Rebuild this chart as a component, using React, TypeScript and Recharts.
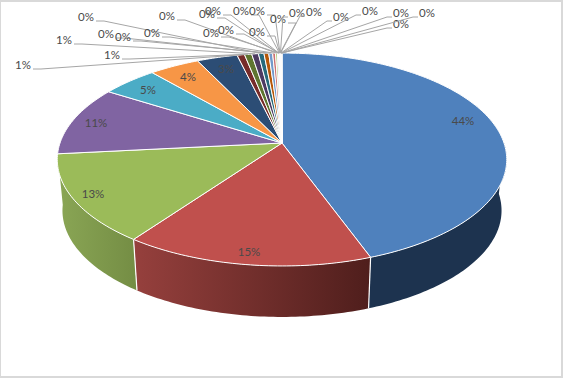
import { PieChart, Pie, Cell } from 'recharts';

const sliceNames = Array.from({ length: 30 }, (_, i) => `Item ${i + 1}`);

const sliceValues = [
  44.48, 15.48, 13.44, 10.6, 4.7, 4.2, 3.4,
  0.62, 0.6, 0.56,
  0.46, 0.4, 0.32, 0.24, 0.16, 0.1,
  0.02, 0.02, 0.02, 0.02, 0.02, 0.02, 0.02,
  0.02, 0.02, 0.02, 0.02, 0.02, 0.02, 0.02,
];

const sliceColors = [
  '#4F81BD', '#C0504D', '#9BBB59', '#8064A2', '#4BACC6', '#F79646', '#2C4D75',
  '#772C2A', '#5F7530', '#4D3B62', '#276A7C', '#B65708', '#729ACA', '#CD7371',
  '#AFC97A', '#9983B5', '#6FBDD1', '#F9AB6B', '#3A679C', '#9F3B38',
  '#7E9D40', '#664F82', '#339198', '#D17B0F', '#8EADD6', '#D89896',
  '#C1D69D', '#AFA0C6', '#93CCDD', '#FAC192',
];

// wall gradient per slice, left to right (only the three front slices show a wall)
const wallColors: Record<number, [string, string]> = {
  0: ['#1D334F', '#1D334F'],
  1: ['#96403D', '#4F1E1C'],
  2: ['#8AA655', '#748D44'],
};

// where each percent label sits in the picture, same order as the slices
const labelSpots: [number, number][] = [
  [463, 120], [249, 251], [93, 193], [96, 122], [148, 89], [188, 76], [226, 68],
  [23, 64], [112, 54], [64, 39], [86, 16], [106, 33], [123, 36], [152, 32],
  [167, 15], [207, 13], [213, 10], [211, 32], [226, 29], [241, 10], [257, 31],
  [257, 10], [278, 18], [297, 12], [314, 11], [341, 16], [370, 10], [401, 23],
  [401, 12], [427, 12],
];

const WIDTH = 563;
const HEIGHT = 378;
const CX = 282;
const CY = 143;
const RADIUS = 222;
const SQUASH = 0.468; // circle to ellipse
const PERSPECTIVE = 0.155; // near edge bigger than far edge
const DEPTH = 51;
const BOTTOM_SHRINK = 0.977;
const RAD = Math.PI / 180;

// recharts angle -> point on the tilted disc
function project(angle: number, cx: number, cy: number, r: number, shrink = 1, drop = 0) {
  const u = Math.cos(angle * RAD);
  const v = -Math.sin(angle * RAD);
  const d = 1 - PERSPECTIVE * v;
  return {
    x: cx + (r * shrink * u) / d,
    y: cy + drop + (r * SQUASH * v) / d,
  };
}

function steps(from: number, to: number) {
  const n = Math.max(1, Math.ceil(Math.abs(to - from)));
  return Array.from({ length: n + 1 }, (_, i) => from + ((to - from) * i) / n);
}

function Slice3D(props: any) {
  const { cx, cy, outerRadius, startAngle, endAngle, fill, index } = props;
  const top = steps(startAngle, endAngle).map((a) => project(a, cx, cy, outerRadius));
  const topPath =
    `M${cx},${cy} ` + top.map((p) => `L${p.x.toFixed(2)},${p.y.toFixed(2)}`).join(' ') + ' Z';

  // wall only on the near half of the rim
  const wallFrom = Math.min(startAngle, 0);
  const wallTo = Math.max(endAngle, -180);
  const hasWall = wallFrom > wallTo && wallColors[index];
  let wall = null;
  if (hasWall) {
    const angles = steps(wallFrom, wallTo);
    const upper = angles.map((a) => project(a, cx, cy, outerRadius));
    const lower = angles
      .slice()
      .reverse()
      .map((a) => project(a, cx, cy, outerRadius, BOTTOM_SHRINK, DEPTH));
    const d =
      [...upper, ...lower]
        .map((p, i) => `${i ? 'L' : 'M'}${p.x.toFixed(2)},${p.y.toFixed(2)}`)
        .join(' ') + ' Z';
    const a = project(wallFrom, cx, cy, outerRadius);
    const b = project(wallFrom, cx, cy, outerRadius, BOTTOM_SHRINK, DEPTH);
    wall = (
      <>
        <defs>
          <linearGradient id={`wall-${index}`} x1="0" y1="0" x2="1" y2="0">
            <stop offset="0" stopColor={wallColors[index][0]} />
            <stop offset="1" stopColor={wallColors[index][1]} />
          </linearGradient>
        </defs>
        <path d={d} fill={`url(#wall-${index})`} stroke="none" />
        {index > 0 && <line x1={a.x} y1={a.y} x2={b.x} y2={b.y} stroke="#ffffff" strokeWidth={1.2} />}
      </>
    );
  }

  return (
    <g>
      {wall}
      <path d={topPath} fill={fill} stroke="#ffffff" strokeWidth={1} strokeLinejoin="round" />
    </g>
  );
}

function PercentLabel(props: any) {
  const { cx, cy, outerRadius, midAngle, percent, index } = props;
  const [x, y] = labelSpots[index];
  let leader = null;
  // small slices get a leader line with a short flat stub at the label
  if (index >= 7) {
    const rim = project(midAngle, cx, cy, outerRadius);
    const onLeft = x < rim.x;
    const nearX = x + (onLeft ? 10 : -9);
    const stubX = x + (onLeft ? 18 : -14);
    const stubY = y + 5;
    leader = (
      <polyline
        points={`${nearX},${stubY} ${stubX},${stubY} ${rim.x.toFixed(2)},${rim.y.toFixed(2)}`}
        fill="none"
        stroke="#A6A6A6"
        strokeWidth={1}
      />
    );
  }
  return (
    <g>
      {leader}
      <text
        x={x}
        y={y}
        textAnchor="middle"
        dominantBaseline="central"
        fontFamily="Lato, sans-serif"
        fontSize={11.5}
        fill="#4A4A4A"
      >
        {`${Math.round(percent * 100)}%`}
      </text>
    </g>
  );
}

const chartData = sliceNames.map((name, i) => ({ name, value: sliceValues[i] }));

export default function App() {
  return (
    <div style={{ position: 'absolute', left: 0, top: 0, width: WIDTH, height: HEIGHT, background: '#ffffff' }}>
      <PieChart width={WIDTH} height={HEIGHT} margin={{ top: 0, right: 0, bottom: 0, left: 0 }}>
        <Pie
          data={chartData}
          dataKey="value"
          nameKey="name"
          cx={CX}
          cy={CY}
          outerRadius={RADIUS}
          startAngle={90}
          endAngle={-270}
          paddingAngle={0}
          shape={Slice3D}
          label={PercentLabel}
          labelLine={false}
          isAnimationActive={false}
        >
          {chartData.map((d, i) => (
            <Cell key={d.name} fill={sliceColors[i]} />
          ))}
        </Pie>
      </PieChart>
      {/* frame round the picture */}
      <div
        style={{
          position: 'absolute',
          inset: 0,
          boxSizing: 'border-box',
          borderStyle: 'solid',
          borderColor: '#D9D9D9',
          borderWidth: '2px 2px 2px 1px',
          pointerEvents: 'none',
        }}
      />
    </div>
  );
}
